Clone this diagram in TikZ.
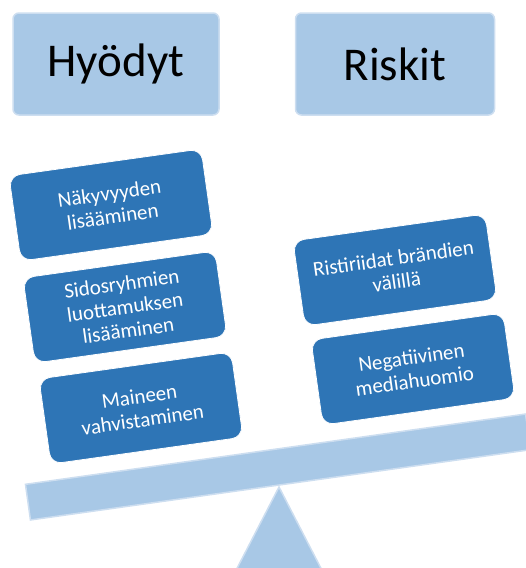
\documentclass[tikz,border=0pt]{standalone}
\usepackage{fontspec}
\setmainfont{Carlito}
\definecolor{palebar}{RGB}{168,200,230}
\definecolor{paleedge}{RGB}{205,222,240}
\definecolor{itemblue}{RGB}{46,117,182}
\tikzset{
  header/.style={fill=palebar, draw=paleedge, line width=1.5pt, rounded corners=6pt,
    minimum width=206pt, minimum height=102pt, inner sep=0pt,
    font=\fontsize{47}{50}\selectfont},
  item/.style={fill=itemblue, draw=white, line width=0.8pt, rounded corners=11pt,
    rotate=8, minimum width=194pt, minimum height=86pt, inner sep=0pt,
    text=white, align=center, font=\fontsize{21}{23.5}\selectfont},
  beam/.style={fill=palebar, draw=paleedge, line width=1.5pt}
}
\begin{document}
\begin{tikzpicture}[x=1pt,y=-1pt]
        \useasboundingbox (0,0) rectangle (526,568);
        \clip (0,0) rectangle (526,568);
        % headings
        \node [header] (hyodyt) at (116,64) {Hyödyt};
        \node [header, minimum width=199pt] (riskit) at (395,64) {Riskit};
        % scale: stand and beam
        \coordinate (tukipiste) at (279,487);
        \draw [beam] (tukipiste) -- (327,580) -- (231,580) -- cycle;
        \node [beam, rotate=8, minimum width=505pt, minimum height=36pt, inner sep=0pt] (vipu) at (278,467) {};
        % benefits
        \node [item] (nakyvyys) at (111,205) {Näkyvyyden\\lisääminen};
        \node [item] (luottamus) at (125,307) {Sidosryhmien\\luottamuksen\\lisääminen};
        \node [item] (maine) at (141,408) {Maineen\\vahvistaminen};
        % risks
        \node [item] (ristiriidat) at (395,270) {Ristiriidat brändien\\välillä};
        \node [item] (mediahuomio) at (413,369) {Negatiivinen\\mediahuomio};
\end{tikzpicture}
\end{document}
